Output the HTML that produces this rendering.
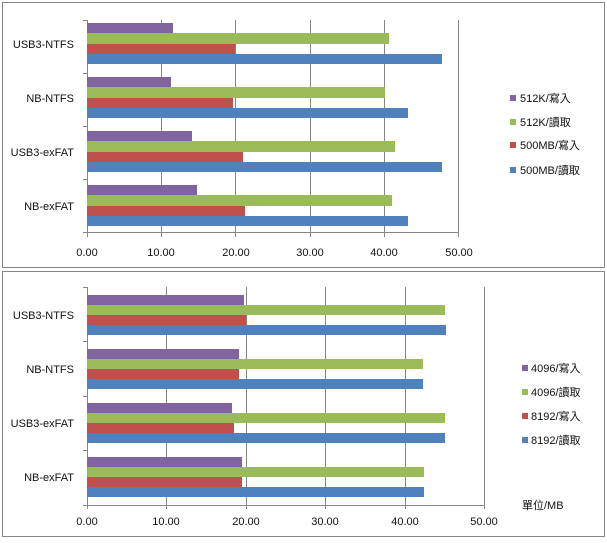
<!DOCTYPE html>
<html><head><meta charset="utf-8"><style>
body{margin:0;background:#fff}
text{font-family:"Liberation Sans","Noto Sans CJK TC",sans-serif;font-size:11px;fill:#111}
</style></head><body>
<svg width="607" height="538" xmlns="http://www.w3.org/2000/svg">
<rect x="0" y="0" width="607" height="538" fill="#fff"/>
<rect x="2.5" y="2.5" width="602" height="265" fill="#fff" stroke="#868686"/>
<rect x="2.5" y="271.5" width="602" height="265" fill="#fff" stroke="#868686"/>
<g stroke="#868686" stroke-width="1">
<line x1="161.5" y1="20" x2="161.5" y2="233"/>
<line x1="235.5" y1="20" x2="235.5" y2="233"/>
<line x1="310.5" y1="20" x2="310.5" y2="233"/>
<line x1="384.5" y1="20" x2="384.5" y2="233"/>
<line x1="458.5" y1="20" x2="458.5" y2="233"/>
<line x1="87.5" y1="20" x2="87.5" y2="233"/>
<line x1="87" y1="232.5" x2="459" y2="232.5"/>
<line x1="83" y1="20.5" x2="87" y2="20.5"/>
<line x1="83" y1="73.5" x2="87" y2="73.5"/>
<line x1="83" y1="126.5" x2="87" y2="126.5"/>
<line x1="83" y1="179.5" x2="87" y2="179.5"/>
<line x1="83" y1="232.5" x2="87" y2="232.5"/>
<line x1="161.5" y1="233" x2="161.5" y2="237"/><line x1="235.5" y1="233" x2="235.5" y2="237"/><line x1="310.5" y1="233" x2="310.5" y2="237"/><line x1="384.5" y1="233" x2="384.5" y2="237"/><line x1="458.5" y1="233" x2="458.5" y2="237"/><line x1="87.5" y1="233" x2="87.5" y2="237"/>
</g>
<g>
<rect x="87" y="23" width="86" height="10" fill="#8064A2"/>
<rect x="87" y="33" width="302" height="11" fill="#9BBB59"/>
<rect x="87" y="44" width="148" height="10" fill="#C0504D"/>
<rect x="87" y="54" width="355" height="10" fill="#4F81BD"/>
<rect x="87" y="77" width="84" height="10" fill="#8064A2"/>
<rect x="87" y="87" width="298" height="11" fill="#9BBB59"/>
<rect x="87" y="98" width="146" height="10" fill="#C0504D"/>
<rect x="87" y="108" width="321" height="10" fill="#4F81BD"/>
<rect x="87" y="131" width="105" height="10" fill="#8064A2"/>
<rect x="87" y="141" width="308" height="11" fill="#9BBB59"/>
<rect x="87" y="152" width="156" height="10" fill="#C0504D"/>
<rect x="87" y="162" width="355" height="10" fill="#4F81BD"/>
<rect x="87" y="185" width="110" height="10" fill="#8064A2"/>
<rect x="87" y="195" width="305" height="11" fill="#9BBB59"/>
<rect x="87" y="206" width="158" height="10" fill="#C0504D"/>
<rect x="87" y="216" width="321" height="10" fill="#4F81BD"/>
</g>
<g text-anchor="end">
<text x="74" y="48">USB3-NTFS</text>
<text x="74" y="102">NB-NTFS</text>
<text x="74" y="156">USB3-exFAT</text>
<text x="74" y="210">NB-exFAT</text>
</g>
<g text-anchor="middle">
<text x="87" y="256">0.00</text>
<text x="161" y="256">10.00</text><text x="236" y="256">20.00</text><text x="310" y="256">30.00</text><text x="384" y="256">40.00</text><text x="459" y="256">50.00</text>
</g>
<g>
<rect x="510" y="95" width="6" height="6" fill="#8064A2"/><text x="520" y="102">512K/寫入</text>
<rect x="510" y="119" width="6" height="6" fill="#9BBB59"/><text x="520" y="126">512K/讀取</text>
<rect x="510" y="142" width="6" height="6" fill="#C0504D"/><text x="520" y="149">500MB/寫入</text>
<rect x="510" y="167" width="6" height="6" fill="#4F81BD"/><text x="520" y="174">500MB/讀取</text>
</g>
<g stroke="#868686" stroke-width="1">
<line x1="166.5" y1="287" x2="166.5" y2="505"/>
<line x1="246.5" y1="287" x2="246.5" y2="505"/>
<line x1="325.5" y1="287" x2="325.5" y2="505"/>
<line x1="405.5" y1="287" x2="405.5" y2="505"/>
<line x1="484.5" y1="287" x2="484.5" y2="505"/>
<line x1="87.5" y1="287" x2="87.5" y2="505"/>
<line x1="87" y1="505.5" x2="485" y2="505.5"/>
<line x1="83" y1="287.5" x2="87" y2="287.5"/>
<line x1="83" y1="341.5" x2="87" y2="341.5"/>
<line x1="83" y1="396.5" x2="87" y2="396.5"/>
<line x1="83" y1="450.5" x2="87" y2="450.5"/>
<line x1="83" y1="505.5" x2="87" y2="505.5"/>
<line x1="166.5" y1="505" x2="166.5" y2="509"/><line x1="246.5" y1="505" x2="246.5" y2="509"/><line x1="325.5" y1="505" x2="325.5" y2="509"/><line x1="405.5" y1="505" x2="405.5" y2="509"/><line x1="484.5" y1="505" x2="484.5" y2="509"/><line x1="87.5" y1="505" x2="87.5" y2="509"/>
</g>
<g>
<rect x="87" y="295" width="157" height="10" fill="#8064A2"/>
<rect x="87" y="305" width="358" height="10" fill="#9BBB59"/>
<rect x="87" y="315" width="159" height="10" fill="#C0504D"/>
<rect x="87" y="325" width="359" height="10" fill="#4F81BD"/>
<rect x="87" y="349" width="152" height="10" fill="#8064A2"/>
<rect x="87" y="359" width="336" height="10" fill="#9BBB59"/>
<rect x="87" y="369" width="152" height="10" fill="#C0504D"/>
<rect x="87" y="379" width="336" height="10" fill="#4F81BD"/>
<rect x="87" y="403" width="145" height="10" fill="#8064A2"/>
<rect x="87" y="413" width="358" height="10" fill="#9BBB59"/>
<rect x="87" y="423" width="147" height="10" fill="#C0504D"/>
<rect x="87" y="433" width="358" height="10" fill="#4F81BD"/>
<rect x="87" y="457" width="155" height="10" fill="#8064A2"/>
<rect x="87" y="467" width="337" height="10" fill="#9BBB59"/>
<rect x="87" y="477" width="155" height="10" fill="#C0504D"/>
<rect x="87" y="487" width="337" height="10" fill="#4F81BD"/>
</g>
<g text-anchor="end">
<text x="74" y="319">USB3-NTFS</text>
<text x="74" y="373">NB-NTFS</text>
<text x="74" y="427">USB3-exFAT</text>
<text x="74" y="481">NB-exFAT</text>
</g>
<g text-anchor="middle">
<text x="87" y="525">0.00</text><text x="166" y="525">10.00</text><text x="246" y="525">20.00</text><text x="325" y="525">30.00</text><text x="405" y="525">40.00</text><text x="484" y="525">50.00</text>
</g>
<g>
<rect x="522" y="365" width="6" height="6" fill="#8064A2"/><text x="531" y="372">4096/寫入</text>
<rect x="522" y="389" width="6" height="6" fill="#9BBB59"/><text x="531" y="396">4096/讀取</text>
<rect x="522" y="413" width="6" height="6" fill="#C0504D"/><text x="531" y="420">8192/寫入</text>
<rect x="522" y="437" width="6" height="6" fill="#4F81BD"/><text x="531" y="444">8192/讀取</text>
<text x="522" y="509">單位/MB</text>
</g>
</svg>
</body></html>
